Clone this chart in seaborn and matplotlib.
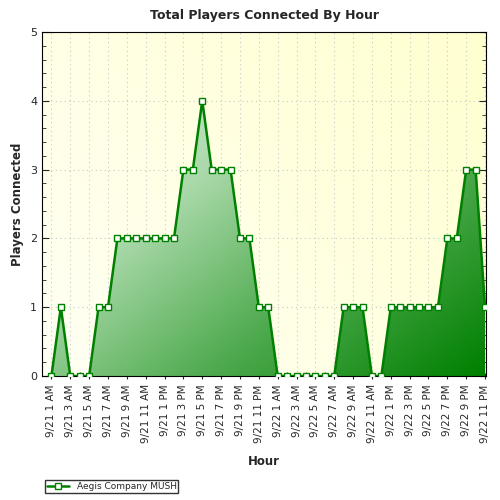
import numpy as np
import pandas as pd
import matplotlib
matplotlib.use("Agg")
import matplotlib.pyplot as plt
import seaborn as sns
from matplotlib.colors import LinearSegmentedColormap
from matplotlib.ticker import MultipleLocator

players = [0,1,0,0,0,1,1,2,2,2,2,2,2,2,3,3,4,3,3,3,2,2,1,1,
           0,0,0,0,0,0,0,1,1,1,0,0,1,1,1,1,1,1,2,2,3,3,1]
hours = []
for d in ["9/21", "9/22"]:
    for h in range(24):
        hr = h % 12 or 12
        hours.append(f"{d} {hr} {'AM' if h < 12 else 'PM'}")
hours = hours[1:1+len(players)]
df = pd.DataFrame({"idx": range(len(players)), "Players": players, "Hour": hours})

sns.set_style("white")
fig = plt.figure(figsize=(5, 5), dpi=100)
fig.patch.set_facecolor("white")
ax = fig.add_axes([0.084, 0.248, 0.888, 0.688])

n = len(players)
ax.set_xlim(-1.0, n - 1 + 0.1)
ax.set_ylim(0, 5)

bg = LinearSegmentedColormap.from_list("bg", ["#fffff4", "#ffffd0"])
yy, xx = np.mgrid[0:1:50j, 0:1:50j]
ax.imshow(xx * 0.6 + yy * 0.4, cmap=bg, extent=[-1.0, n - 0.9, 0, 5], aspect="auto", origin="lower", zorder=0)

fillc = LinearSegmentedColormap.from_list("fg", ["#e2f2e2", "#a8d8a8", "#4aa84a", "#008000"])
poly = ax.fill_between(df["idx"], df["Players"], 0, color="none", zorder=1)
gx, gy = np.mgrid[0:1:100j, 0:1:100j]
grad = (gx.T * 0.6 + (1 - gy.T) * 0.5)
im = ax.imshow(grad, cmap=fillc, extent=[0, n - 1, 0, 4.2], aspect="auto", origin="lower", zorder=1)
im.set_clip_path(poly.get_paths()[0], transform=ax.transData)

sns.lineplot(data=df, x="idx", y="Players", ax=ax, color="#008000", lw=1.8, marker="s",
             markersize=5, markerfacecolor="white", markeredgecolor="#008000",
             markeredgewidth=1, zorder=3, label="Aegis Company MUSH")

ax.grid(True, color="#c8c8c8", linestyle=(0, (1, 3)), lw=0.8)
ax.set_xticks(range(0, n, 2))
ax.set_xticklabels(df["Hour"][::2], rotation=90, fontsize=7.5)
ax.xaxis.set_minor_locator(MultipleLocator(1))
ax.yaxis.set_major_locator(MultipleLocator(1))
ax.yaxis.set_minor_locator(MultipleLocator(0.2))
ax.tick_params(axis="both", which="major", length=5, direction="inout", labelsize=7.5, bottom=True, left=True)
ax.tick_params(axis="both", which="minor", length=3, direction="in", bottom=True, left=True)
ax.tick_params(axis="y", which="both", right=True, direction="in", labelsize=8)
for s in ax.spines.values():
    s.set_color("black")
ax.set_xlabel("Hour", fontsize=8.5, fontweight="bold", labelpad=8)
ax.set_ylabel("Players Connected", fontsize=8.5, fontweight="bold")
ax.set_title("Total Players Connected By Hour", fontsize=9, fontweight="bold", pad=9)
ax.legend(loc="lower left", bbox_to_anchor=(0.09, 0.015), bbox_transform=fig.transFigure,
          fontsize=6.5, frameon=True, fancybox=False, edgecolor="black", borderpad=0.2,
          handlelength=2.5, borderaxespad=0)
fig.savefig("out.png", dpi=100)
